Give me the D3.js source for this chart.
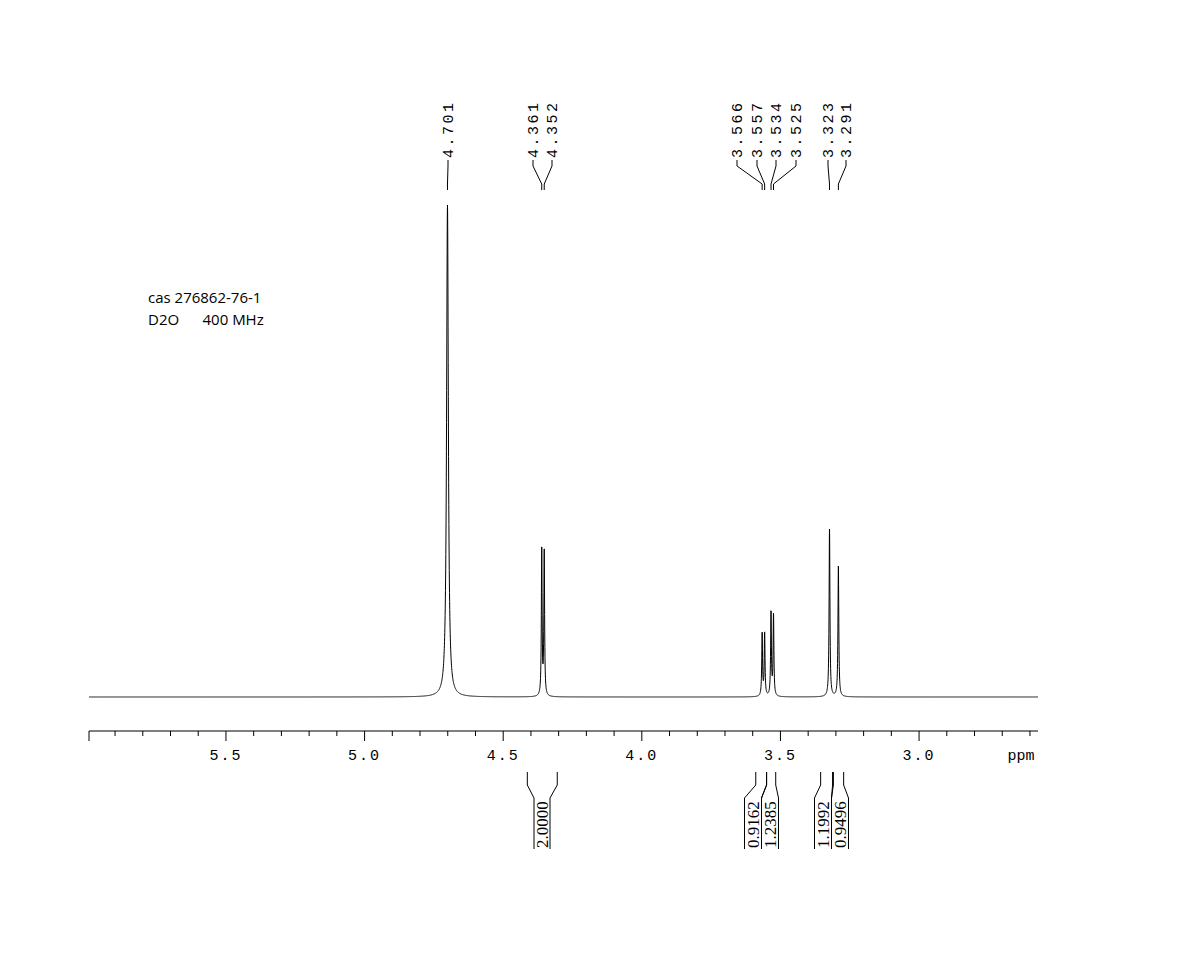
<!DOCTYPE html>
<html><head><meta charset="utf-8">
<script src="https://cdn.jsdelivr.net/npm/d3@7"></script>
<style>body{margin:0;background:#fff}</style>
</head><body>
<script>
// Peak list (ppm, relative height, half-width ppm)
const peakPpm    = [4.701, 4.361, 4.352, 3.566, 3.557, 3.534, 3.525, 3.323, 3.291];
const peakHeight = [1.000, 0.300, 0.296, 0.128, 0.128, 0.170, 0.165, 0.345, 0.266];
const peakWidth  = [0.0038,0.0016,0.0016,0.0017,0.0017,0.0017,0.0017,0.0018,0.0018];
const peakLabels = ["4.701","4.361","4.352","3.566","3.557","3.534","3.525","3.323","3.291"];
const integralFrom = [4.413, 3.589, 3.550, 3.355, 3.309];
const integralTo   = [4.305, 3.550, 3.517, 3.312, 3.272];
const integralVals = ["2.0000","0.9162","1.2385","1.1992","0.9496"];
const tickLabels = [5.5, 5.0, 4.5, 4.0, 3.5, 3.0];

const W=1185,H=953;
const svg=d3.select("body").append("svg").attr("width",W).attr("height",H);
const x=d3.scaleLinear().domain([5.994,2.571]).range([89,1038]);
const y=d3.scaleLinear().domain([0,1]).range([697,205]);

const n=8000, pts=[];
for(let i=0;i<=n;i++){
  const p=5.994+(2.571-5.994)*i/n;
  let v=0;
  for(let k=0;k<peakPpm.length;k++){
    const d=(p-peakPpm[k])/peakWidth[k];
    v+=peakHeight[k]/(1+d*d);
  }
  pts.push([p,v]);
}
svg.append("path").datum(pts).attr("fill","none").attr("stroke","#000").attr("stroke-width",1)
  .attr("d",d3.line().x(d=>x(d[0])).y(d=>y(d[1])));

const ax=svg.append("g").attr("transform","translate(0,731)");
ax.append("line").attr("x1",89).attr("x2",1038).attr("stroke","#000");
const minor=d3.range(59,25,-1).map(v=>v/10);
ax.selectAll(".mt").data(minor).enter().append("line")
  .attr("x1",d=>x(d)).attr("x2",d=>x(d)).attr("y1",0)
  .attr("y2",d=>Math.abs(d*2-Math.round(d*2))<1e-6?10:5).attr("stroke","#000");
ax.append("line").attr("x1",89).attr("x2",89).attr("y1",0).attr("y2",10).attr("stroke","#000");
ax.selectAll(".tl").data(tickLabels).enter().append("text")
  .attr("x",d=>x(d)).attr("y",29).attr("text-anchor","middle")
  .attr("font-family","Liberation Mono").attr("font-size",15).attr("letter-spacing",2)
  .text(d=>d.toFixed(1));
ax.append("text").attr("x",1021).attr("y",29).attr("text-anchor","middle")
  .attr("font-family","Liberation Mono").attr("font-size",15).text("ppm");

const labelX=[448,533,552,737,757,776,796,828,846];
peakLabels.forEach((t,i)=>{
  const lx=labelX[i], px=x(peakPpm[i]);
  svg.append("text").attr("transform",`translate(${lx+5},158) rotate(-90)`)
    .attr("font-family","Liberation Mono").attr("font-size",15).attr("letter-spacing",2.5)
    .text(t);
  svg.append("path").attr("fill","none").attr("stroke","#000").attr("stroke-width",1)
    .attr("d",`M${lx},160 L${lx},166 L${px},184 L${px},190`);
});

// integrals (label centres are layout positions)
const intLabelX=[542,753,770,823,840];
integralVals.forEach((t,i)=>{
  const a=x(integralFrom[i]), b=x(integralTo[i]), m=intLabelX[i];
  const hw=i===0?8:8.5;
  svg.append("path").attr("fill","none").attr("stroke","#000")
    .attr("d",`M${a},772 L${a},785 L${m-hw},798 L${m-hw},849`);
  svg.append("path").attr("fill","none").attr("stroke","#000")
    .attr("d",`M${b},772 L${b},785 L${m+hw},798 L${m+hw},849`);
  svg.append("text").attr("transform",`translate(${m+6},848) rotate(-90)`)
    .style("font-family","'Liberation Serif','DejaVu Serif',serif").attr("font-size",17).text(t);
});

svg.append("text").attr("x",148).attr("y",303).attr("font-family","Open Sans").attr("font-size",15).text("cas 276862-76-1");
svg.append("text").attr("x",148).attr("y",325).attr("font-family","Open Sans").attr("font-size",15).attr("xml:space","preserve").text("D2O      400 MHz");
</script>
</body></html>
